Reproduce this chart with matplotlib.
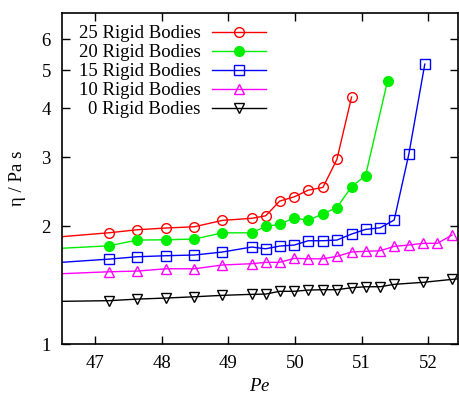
import numpy as np
import matplotlib.pyplot as plt

plt.rcParams['font.family'] = ['Liberation Serif', 'DejaVu Serif']
plt.rcParams['mathtext.fontset'] = 'custom'
plt.rcParams['mathtext.it'] = 'Liberation Serif:italic'

# Peclet numbers (first value lies just left of the visible range)
pe_25 = [46.35, 47.21, 47.63, 48.06, 48.49, 48.91, 49.35, 49.56, 49.77, 49.99,
         50.20, 50.42, 50.63, 50.85]
eta_25 = [1.87, 1.923, 1.957, 1.977, 1.992, 2.068, 2.093, 2.124, 2.316, 2.375,
          2.47, 2.51, 2.96, 4.27]

pe_20 = [46.35, 47.21, 47.63, 48.06, 48.49, 48.91, 49.35, 49.56, 49.77, 49.99,
         50.20, 50.42, 50.63, 50.85, 51.06, 51.39]
eta_20 = [1.75, 1.781, 1.842, 1.845, 1.853, 1.922, 1.922, 1.996, 2.02, 2.10,
          2.068, 2.15, 2.23, 2.52, 2.69, 4.69]

pe_15 = [46.35, 47.21, 47.63, 48.06, 48.49, 48.91, 49.35, 49.56, 49.77, 49.99,
         50.20, 50.42, 50.63, 50.85, 51.06, 51.28, 51.49, 51.71, 51.95]
eta_15 = [1.61, 1.647, 1.670, 1.680, 1.687, 1.717, 1.768, 1.75, 1.778, 1.789,
          1.835, 1.835, 1.842, 1.908, 1.961, 1.98, 2.072, 3.05, 5.18]

pe_10 = [46.35, 47.21, 47.63, 48.06, 48.49, 48.91, 49.35, 49.56, 49.77, 49.99,
         50.20, 50.42, 50.63, 50.85, 51.06, 51.28, 51.49, 51.71, 51.93, 52.14,
         52.36]
eta_10 = [1.508, 1.529, 1.535, 1.556, 1.556, 1.591, 1.603, 1.616, 1.616, 1.654,
          1.65, 1.65, 1.674, 1.717, 1.724, 1.73, 1.775, 1.789, 1.807, 1.807,
          1.897]

pe_0 = [46.35, 47.21, 47.63, 48.06, 48.49, 48.91, 49.35, 49.56, 49.77, 49.99,
        50.20, 50.42, 50.63, 50.85, 51.06, 51.28, 51.49, 51.93, 52.36, 52.6]
eta_0 = [1.284, 1.290, 1.302, 1.310, 1.320, 1.331, 1.339, 1.341, 1.363, 1.363,
         1.373, 1.376, 1.376, 1.392, 1.400, 1.400, 1.42, 1.437, 1.462, 1.475]

labels = ['25 Rigid Bodies', '20 Rigid Bodies', '15 Rigid Bodies',
          '10 Rigid Bodies', '0 Rigid Bodies']
yticks = [1, 2, 3, 4, 5, 6]
xticks = [47, 48, 49, 50, 51, 52]

fig = plt.figure(figsize=(4.59, 3.97), dpi=100)
ax = fig.add_axes([0.135, 0.1335, 0.863, 0.834])

ax.plot(pe_25, eta_25, '-o', color='#ff0000', mfc='none', ms=7, mew=1, lw=1, label=labels[0])
ax.plot(pe_20, eta_20, '-o', color='#00ee00', mfc='#00ee00', ms=7, mew=1, lw=1, label=labels[1])
ax.plot(pe_15, eta_15, '-s', color='#0000ff', mfc='none', ms=7, mew=1, lw=1, label=labels[2])
ax.plot(pe_10, eta_10, '-^', color='#ff00ff', mfc='none', ms=7, mew=1, lw=1, label=labels[3])
ax.plot(pe_0, eta_0, '-v', color='#000000', mfc='none', ms=7, mew=1, lw=1, label=labels[4])

ax.set_yscale('log')
ax.set_ylim(1, 7)
ax.set_xlim(46.5, 52.45)
ax.set_yticks(yticks)
ax.set_yticklabels([str(t) for t in yticks])
ax.minorticks_off()
ax.set_xticks(xticks)

for s in ax.spines.values():
    s.set_linewidth(1.2)
ax.tick_params(direction='in', length=6, width=1, top=True, right=True,
               labelsize=13.5, pad=8)

ax.set_xlabel('$Pe$', fontsize=13.5, labelpad=4)
ax.set_ylabel('η / Pa s', fontsize=13.5, labelpad=11)

ax.legend(loc='upper left', bbox_to_anchor=(0.012, 1.0), frameon=False,
          markerfirst=False, fontsize=13.5, handlelength=2.9,
          handletextpad=0.6, labelspacing=0.1, borderaxespad=0.25)

fig.savefig('out.png', dpi=100)
